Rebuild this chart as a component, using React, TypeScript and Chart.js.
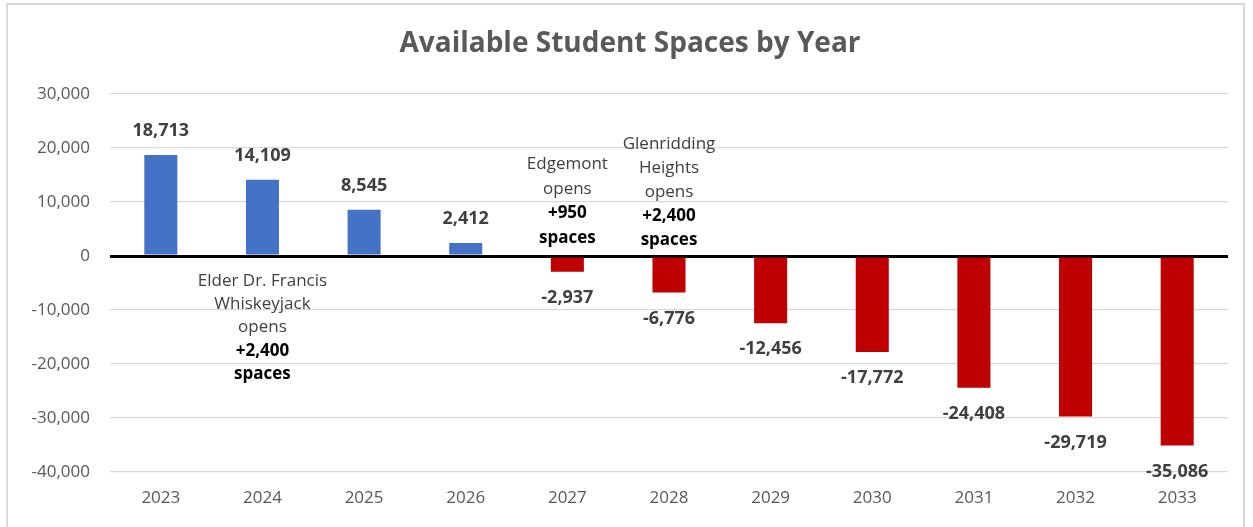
import React, { useEffect, useRef } from "react";
import { Chart, registerables } from "chart.js";

Chart.register(...registerables);

const years = ["2023", "2024", "2025", "2026", "2027", "2028", "2029", "2030", "2031", "2032", "2033"];
const spaces = [18713, 14109, 8545, 2412, -2937, -6776, -12456, -17772, -24408, -29719, -35086];
const yTicks = [30000, 20000, 10000, 0, -10000, -20000, -30000, -40000];
const titleText = "Available Student Spaces by Year";

type Note = { year: string; y: number; gap: number; lines: string[]; bold: boolean[] };
const notes: Note[] = [
  {
    year: "2024",
    y: -4600,
    gap: 23.3,
    lines: ["Elder Dr. Francis", "Whiskeyjack", "opens", "+2,400", "spaces"],
    bold: [false, false, false, true, true],
  },
  {
    year: "2027",
    y: 17000,
    gap: 24.5,
    lines: ["Edgemont", "opens", "+950", "spaces"],
    bold: [false, false, true, true],
  },
  {
    year: "2028",
    y: 20800,
    gap: 24,
    lines: ["Glenridding", "Heights", "opens", "+2,400", "spaces"],
    bold: [false, false, false, true, true],
  },
];

const FONT = "'Open Sans', 'Liberation Sans', sans-serif";
const BLUE = "#4472C4";
const RED = "#C00000";

const labelPlugin = {
  id: "labelsAndNotes",
  afterDatasetsDraw(chart: any) {
    const ctx = chart.ctx;
    const xs = chart.scales.x;
    const ys = chart.scales.y;
    const meta = chart.getDatasetMeta(0);
    ctx.save();
    // title
    ctx.fillStyle = "#595959";
    ctx.font = `bold 28px ${FONT}`;
    ctx.textAlign = "center";
    ctx.textBaseline = "middle";
    ctx.fillText(titleText, 630, 44);
    // value labels
    ctx.font = `bold 18px ${FONT}`;
    ctx.fillStyle = "#404040";
    meta.data.forEach((bar: any, i: number) => {
      const v = spaces[i];
      const txt = v.toLocaleString("en-US");
      const y = v >= 0 ? bar.y - 24 : bar.y + 26;
      ctx.fillText(txt, bar.x, y);
    });
    // notes
    notes.forEach((n) => {
      const x = xs.getPixelForValue(years.indexOf(n.year));
      const y = ys.getPixelForValue(n.y);
      n.lines.forEach((line, k) => {
        ctx.font = `${n.bold[k] ? "bold " : ""}17px ${FONT}`;
        ctx.fillStyle = n.bold[k] ? "#000000" : "#404040";
        ctx.fillText(line, x, y + k * n.gap);
      });
    });
    ctx.restore();
  },
};

export default function App() {
  const ref = useRef<HTMLCanvasElement>(null);
  useEffect(() => {
    document.body.style.margin = "0";
    const chart = new Chart(ref.current!, {
      type: "bar",
      data: {
        labels: years,
        datasets: [
          {
            data: spaces,
            backgroundColor: spaces.map((v) => (v >= 0 ? BLUE : RED)),
            categoryPercentage: 1,
            barPercentage: 0.325,
          },
        ],
      },
      options: {
        animation: false,
        responsive: false,
        layout: { padding: { top: 94, right: 25, left: 0, bottom: 0 } },
        plugins: { legend: { display: false }, tooltip: { enabled: false }, title: { display: false } },
        scales: {
          x: {
            grid: { display: false, drawTicks: false },
            border: { display: false },
            ticks: { color: "#595959", font: { family: FONT, size: 17 }, padding: 16 },
            afterFit: (s: any) => {
              s.height = 55;
            },
          },
          y: {
            min: -40000,
            max: 30000,
            afterBuildTicks: (s: any) => {
              s.ticks = yTicks.map((v) => ({ value: v }));
            },
            grid: {
              drawTicks: false,
              color: (c: any) => (c.tick && c.tick.value === 0 ? "#000000" : "#d9d9d9"),
              lineWidth: (c: any) => (c.tick && c.tick.value === 0 ? 3 : 1.2),
            },
            border: { display: false },
            ticks: {
              color: "#595959",
              font: { family: FONT, size: 17 },
              padding: 20,
              callback: (v: any) => Number(v).toLocaleString("en-US"),
            },
            afterFit: (s: any) => {
              s.width = 110;
            },
          },
        },
      },
      plugins: [labelPlugin],
    });
    return () => chart.destroy();
  }, []);
  return (
    <div style={{ position: "relative", width: 1253, height: 527, background: "#fff" }}>
      <div
        style={{
          position: "absolute",
          left: 6,
          top: 3,
          width: 1239,
          height: 530,
          border: "2px solid #d9d9d9",
          boxSizing: "border-box",
        }}
      />
      <canvas ref={ref} width={1253} height={527} style={{ position: "absolute", left: 0, top: 0 }} />
    </div>
  );
}
